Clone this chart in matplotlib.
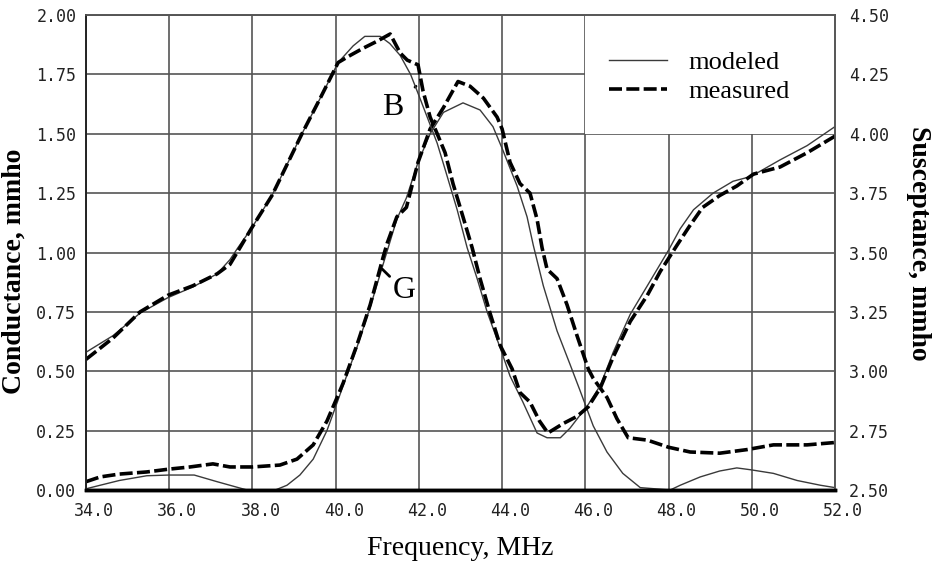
import matplotlib
matplotlib.use('Agg')
import matplotlib.pyplot as plt
from matplotlib.patches import Rectangle
from matplotlib.transforms import ScaledTranslation

# conductance G (left axis, mmho)
g_mod_f = [34.0, 34.34, 34.8, 35.46, 36.0, 36.6, 37.15, 37.6, 37.87, 38.55, 38.83, 39.14, 39.46,
           39.79, 40.06, 40.18, 40.51, 40.83, 41.14, 41.47, 41.7, 41.98, 42.27, 42.59, 43.06,
           43.47, 43.78, 44.02, 44.36, 44.6, 44.75, 44.99, 45.32, 45.63, 45.87, 46.19, 46.52,
           46.9, 47.32, 48.04, 48.28, 48.76, 49.23, 49.64, 49.98, 50.52, 51.09, 51.65, 52.0]
g_mod = [0.005, 0.02, 0.04, 0.06, 0.063, 0.063, 0.035, 0.013, 0.0, 0.0, 0.02, 0.063, 0.13,
         0.25, 0.38, 0.44, 0.60, 0.77, 0.95, 1.14, 1.23, 1.38, 1.50, 1.59, 1.63,
         1.60, 1.53, 1.43, 1.28, 1.15, 1.03, 0.86, 0.67, 0.53, 0.42, 0.27, 0.16,
         0.07, 0.01, 0.0, 0.02, 0.055, 0.08, 0.093, 0.085, 0.07, 0.04, 0.02, 0.01]

g_meas_f = [34.0, 34.34, 34.8, 35.46, 36.0, 36.5, 37.05, 37.46, 38.0, 38.66, 39.07, 39.46,
            39.79, 40.06, 40.18, 40.51, 40.83, 41.14, 41.24, 41.47, 41.7, 41.98, 42.27, 42.59,
            42.94, 43.23, 43.55, 43.88, 44.0, 44.19, 44.43, 44.67, 44.84, 44.96, 45.08, 45.32,
            45.56, 45.8, 46.07, 46.19, 46.52, 46.76, 47.03, 47.49, 48.0, 48.52, 49.23, 49.88,
            50.52, 51.33, 52.0]
g_meas = [0.035, 0.055, 0.067, 0.076, 0.088, 0.097, 0.11, 0.097, 0.097, 0.105, 0.13, 0.19,
          0.29, 0.40, 0.45, 0.61, 0.78, 0.98, 1.04, 1.15, 1.19, 1.38, 1.52, 1.61,
          1.72, 1.70, 1.65, 1.57, 1.52, 1.38, 1.29, 1.25, 1.14, 1.02, 0.93, 0.89,
          0.78, 0.65, 0.51, 0.47, 0.39, 0.30, 0.22, 0.21, 0.18, 0.16, 0.155, 0.17,
          0.19, 0.19, 0.20]

# susceptance B (right axis, mmho)
b_mod_f = [34.0, 34.65, 35.3, 35.97, 36.57, 37.15, 37.46, 37.65, 37.97, 38.47, 39.19, 39.63,
           40.06, 40.42, 40.7, 41.07, 41.3, 41.55, 41.8, 41.98, 42.2, 42.44, 42.63, 42.92,
           43.16, 43.4, 43.64, 43.95, 44.19, 44.5, 44.84, 45.08, 45.4, 45.63, 46.07, 46.36,
           46.67, 47.08, 47.49, 48.0, 48.28, 48.6, 49.07, 49.55, 49.98, 50.68, 51.33, 52.0]
b_mod = [3.08, 3.15, 3.245, 3.31, 3.355, 3.41, 3.47, 3.52, 3.60, 3.74, 4.00, 4.15,
         4.30, 4.37, 4.41, 4.41, 4.38, 4.33, 4.25, 4.17, 4.07, 3.96, 3.85, 3.68,
         3.52, 3.39, 3.25, 3.10, 2.98, 2.87, 2.74, 2.72, 2.72, 2.76, 2.86, 2.94,
         3.08, 3.24, 3.36, 3.51, 3.60, 3.68, 3.75, 3.80, 3.82, 3.89, 3.95, 4.03]

b_meas_f = [34.0, 34.65, 35.3, 35.97, 36.57, 37.15, 37.46, 37.7, 37.97, 38.47, 39.19, 39.63,
            40.06, 40.35, 40.66, 41.0, 41.31, 41.55, 41.72, 41.98, 42.1, 42.27, 42.44, 42.63,
            42.82, 43.06, 43.28, 43.47, 43.7, 43.95, 44.24, 44.43, 44.67, 44.9, 45.1, 45.47,
            45.8, 46.07, 46.36, 46.67, 47.08, 47.49, 47.8, 48.2, 48.5, 48.82, 49.23, 49.64,
            50.04, 50.68, 51.33, 52.0]
b_meas = [3.05, 3.14, 3.25, 3.32, 3.36, 3.41, 3.45, 3.52, 3.60, 3.74, 4.00, 4.15,
          4.30, 4.33, 4.36, 4.39, 4.42, 4.34, 4.31, 4.29, 4.18, 4.07, 4.00, 3.92,
          3.79, 3.65, 3.52, 3.39, 3.25, 3.11, 3.01, 2.91, 2.87, 2.79, 2.74, 2.78,
          2.81, 2.85, 2.93, 3.06, 3.21, 3.32, 3.42, 3.53, 3.61, 3.69, 3.74, 3.78,
          3.83, 3.86, 3.92, 3.99]

x_ticks = [34, 36, 38, 40, 42, 44, 46, 48, 50, 52]
g_ticks = [0, 0.25, 0.5, 0.75, 1.0, 1.25, 1.5, 1.75, 2.0]
b_ticks = [2.5, 2.75, 3.0, 3.25, 3.5, 3.75, 4.0, 4.25, 4.5]

serif = 'Liberation Serif'
mono = 'DejaVu Sans Mono'
mod_style = dict(color='#3a3a3a', linewidth=1.0)
meas_style = dict(color='black', linewidth=2.6, dashes=(3.6, 1.2))

fig = plt.figure(figsize=(9.4, 5.65), dpi=100)
ax = fig.add_axes([86 / 940, 1 - 490 / 565, 749 / 940, 475 / 565])
ax2 = ax.twinx()

ax.set_xlim(34, 52)
ax.set_ylim(0, 2.0)
ax2.set_ylim(2.5, 4.5)

ax.set_xticks(x_ticks)
ax.set_xticklabels(['%.1f' % t for t in x_ticks])
ax.set_yticks(g_ticks)
ax.set_yticklabels(['%.2f' % t for t in g_ticks])
ax2.set_yticks(b_ticks)
ax2.set_yticklabels(['%.2f' % t for t in b_ticks])

ax.grid(True, color='#555555', linewidth=1.2)
ax.add_patch(Rectangle((46, 1.5), 6, 0.5, facecolor='white', edgecolor='none', zorder=1.8))

ax.plot(g_mod_f, g_mod, **mod_style)
ax.plot(g_meas_f, g_meas, **meas_style)
l1, = ax2.plot(b_mod_f, b_mod, **mod_style)
l2, = ax2.plot(b_meas_f, b_meas, **meas_style)

for a in (ax, ax2):
    a.tick_params(length=0, labelsize=12, labelcolor='#222222')
    for lab in a.get_xticklabels() + a.get_yticklabels():
        lab.set_fontfamily(mono)
    for s in a.spines.values():
        s.set_color('#555555')
        s.set_linewidth(1.2)
    a.spines['bottom'].set_color('black')
    a.spines['bottom'].set_linewidth(2.5)
    a.spines['left'].set_color('#222222')
ax.tick_params(axis='x', pad=9)
ax.tick_params(axis='y', pad=7)
ax2.tick_params(axis='y', pad=10)
for lab in ax.get_xticklabels():
    lab.set_transform(lab.get_transform() + ScaledTranslation(0.08, 0, fig.dpi_scale_trans))

# curve tags
ax.annotate('B', xy=(41.93, 1.70), xytext=(41.36, 1.61), fontsize=23, family=serif,
            ha='center', va='center',
            arrowprops=dict(arrowstyle='-', linestyle='--', linewidth=2, color='black',
                            shrinkA=9, shrinkB=0))
ax.annotate('G', xy=(41.12, 0.93), xytext=(41.64, 0.84), fontsize=23, family=serif,
            ha='center', va='center',
            arrowprops=dict(arrowstyle='-', linewidth=2, color='black',
                            shrinkA=11, shrinkB=0))

ax2.legend([l1, l2], ['modeled', 'measured'], loc='upper left',
           bbox_to_anchor=(0.698, 0.925), frameon=False, borderpad=0, borderaxespad=0,
           handlelength=2.2, handletextpad=0.8, labelspacing=0.2,
           prop={'family': serif, 'size': 19})

ax.set_xlabel('Frequency, MHz', family=serif, fontsize=20)
ax.xaxis.set_label_coords(0.5, -0.097)
ax.set_ylabel('Conductance, mmho', family=serif, fontsize=20, fontweight='bold')
ax.yaxis.set_label_coords(-0.079, 0.46)
ax2.set_ylabel('Susceptance, mmho', family=serif, fontsize=20, fontweight='bold',
               rotation=270, va='center', ha='center')
ax2.yaxis.set_label_coords(1.112, 0.52)

fig.savefig('out.png', dpi=100)
